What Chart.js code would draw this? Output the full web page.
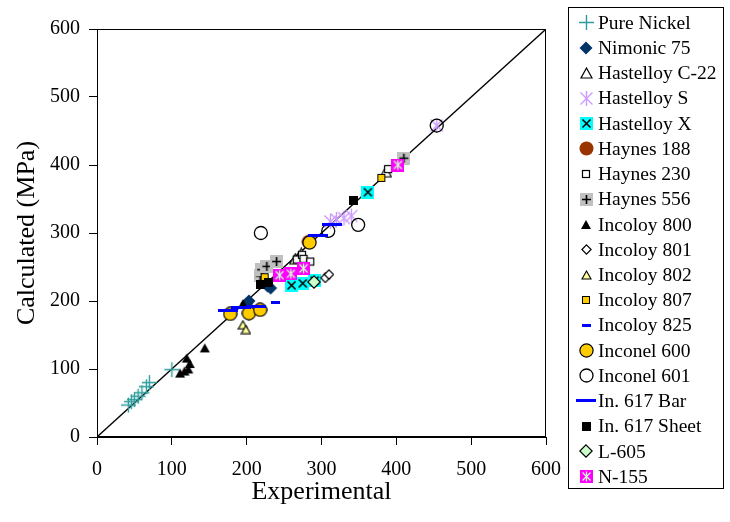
<!DOCTYPE html>
<html>
<head>
<meta charset="utf-8">
<script src="https://cdn.jsdelivr.net/npm/chart.js@4.4.1/dist/chart.umd.min.js"></script>
<style>
  html, body { margin: 0; padding: 0; background: #fff; }
  #wrap { width: 730px; height: 522px; }
</style>
</head>
<body>
<div id="wrap"><canvas id="c" width="730" height="522"></canvas></div>
<script>
// ─── data (experimental, calculated) in MPa ─────────────────────────────────
const pureNickel   = [[42,47],[46,52],[50,55],[55,60],[60,65],[66,74],[70,80],[100,99]];
const nimonic75    = [[200,196],[203,200],[228,222],[232,219]];
const hastC22      = [[265,262],[270,265],[273,270],[386,390]];
const hastS        = [[312,317],[320,320],[330,322],[340,325],[454,458]];
const hastX        = [[260,223],[275,226],[291,230],[362,360]];
const haynes188    = [[283,287]];
const haynes230    = [[267,261],[274,268],[276,262],[285,258],[389,394]];
const haynes556    = [[218,237],[220,246],[227,251],[240,258],[410,410]];
const incoloy800   = [[111,94],[117,97],[122,100],[124,108],[120,116],[144,131],[195,196]];
const incoloy801   = [[305,234],[310,239]];
const incoloy802   = [[195,165],[199,158]];
const incoloy807   = [[224,235],[380,381]];
const incoloy825   = [[239,198]];
const inconel600   = [[178,181],[203,182],[218,187],[284,286]];
const inconel601   = [[219,300],[309,303],[349,312],[454,458]];
const in617Bar     = [[175,186],[193,191],[213,192],[295,296],[314,313]];
const in617Sheet   = [[218,225],[229,227],[343,348]];
const l605         = [[290,228]];
const n155         = [[244,238],[259,240],[276,248],[402,400]];

const AXIS_TICKS = [0, 100, 200, 300, 400, 500, 600];
const SERIF = '"Liberation Serif", "Times New Roman", serif';

// ─── marker images ──────────────────────────────────────────────────────────
function mk(w, h, draw) {
  const c = document.createElement('canvas');
  c.width = w; c.height = h;
  const g = c.getContext('2d');
  draw(g, w, h);
  return c;
}
const plus = (g, cx, cy, r) => { g.beginPath(); g.moveTo(cx - r, cy); g.lineTo(cx + r, cy); g.moveTo(cx, cy - r); g.lineTo(cx, cy + r); g.stroke(); };
const cross = (g, cx, cy, r) => { g.beginPath(); g.moveTo(cx - r, cy - r); g.lineTo(cx + r, cy + r); g.moveTo(cx + r, cy - r); g.lineTo(cx - r, cy + r); g.stroke(); };
const star = (g, cx, cy, r) => { cross(g, cx, cy, r * 0.8); g.beginPath(); g.moveTo(cx, cy - r); g.lineTo(cx, cy + r); g.stroke(); };
const diamond = (g, cx, cy, r) => { g.beginPath(); g.moveTo(cx, cy - r); g.lineTo(cx + r, cy); g.lineTo(cx, cy + r); g.lineTo(cx - r, cy); g.closePath(); };
const tri = (g, w, h) => { g.beginPath(); g.moveTo(w / 2, 1); g.lineTo(w - 1, h - 1); g.lineTo(1, h - 1); g.closePath(); };

const M = {
  plus: mk(17, 17, (g) => { g.strokeStyle = '#2e9c9c'; g.lineWidth = 1.4; plus(g, 8.5, 8.5, 7.5); }),
  navyDiamond: mk(14, 14, (g) => { g.fillStyle = '#003366'; diamond(g, 7, 7, 6.5); g.fill(); }),
  openTri: mk(13, 12, (g, w, h) => { g.fillStyle = '#fff'; g.strokeStyle = '#000'; g.lineWidth = 1.2; tri(g, w, h); g.fill(); g.stroke(); }),
  lavStar: mk(17, 17, (g) => { g.strokeStyle = '#cc99ff'; g.lineWidth = 1.4; star(g, 8.5, 8.5, 7.5); }),
  cyanX: mk(13, 13, (g) => { g.fillStyle = '#00ffff'; g.fillRect(0, 0, 13, 13); g.strokeStyle = '#000'; g.lineWidth = 1.6; cross(g, 6.5, 6.5, 4); }),
  brownDot: mk(15, 15, (g) => { g.fillStyle = '#993300'; g.beginPath(); g.arc(7.5, 7.5, 7, 0, Math.PI * 2); g.fill(); }),
  openSq: mk(10, 10, (g) => { g.fillStyle = '#fff'; g.fillRect(1, 1, 8, 8); g.strokeStyle = '#000'; g.lineWidth = 1.2; g.strokeRect(1.5, 1.5, 7, 7); }),
  graySq: mk(13, 13, (g) => { g.fillStyle = '#c0c0c0'; g.fillRect(0, 0, 13, 13); g.strokeStyle = '#000'; g.lineWidth = 1.6; plus(g, 6.5, 6.5, 4.5); }),
  blackTri: mk(12, 11, (g, w, h) => { g.fillStyle = '#000'; tri(g, w, h); g.fill(); }),
  openDia: mk(11, 11, (g) => { g.fillStyle = '#fff'; g.strokeStyle = '#000'; g.lineWidth = 1.2; diamond(g, 5.5, 5.5, 4.6); g.fill(); g.stroke(); }),
  yelTri: mk(11, 10, (g, w, h) => { g.fillStyle = '#ffff99'; g.strokeStyle = '#000'; g.lineWidth = 1.1; tri(g, w, h); g.fill(); g.stroke(); }),
  orangeSq: mk(10, 10, (g) => { g.fillStyle = '#ffcc00'; g.fillRect(1, 1, 8, 8); g.strokeStyle = '#000'; g.lineWidth = 1; g.strokeRect(1.5, 1.5, 7, 7); }),
  shortDash: mk(9, 3, (g) => { g.fillStyle = '#0000ff'; g.fillRect(0, 0, 9, 3); }),
  yelDot: mk(15, 15, (g) => { g.fillStyle = '#ffcc00'; g.strokeStyle = '#000'; g.lineWidth = 1.2; g.beginPath(); g.arc(7.5, 7.5, 6.6, 0, Math.PI * 2); g.fill(); g.stroke(); }),
  openDot: mk(15, 15, (g) => { g.strokeStyle = '#000'; g.lineWidth = 1.3; g.beginPath(); g.arc(7.5, 7.5, 6.5, 0, Math.PI * 2); g.stroke(); }),
  longDash: mk(20, 3, (g) => { g.fillStyle = '#0000ff'; g.fillRect(0, 0, 20, 3); }),
  blackSq: mk(9, 9, (g) => { g.fillStyle = '#000'; g.fillRect(0, 0, 9, 9); }),
  greenDia: mk(14, 14, (g) => { g.fillStyle = '#ccffcc'; g.strokeStyle = '#000'; g.lineWidth = 1.2; diamond(g, 7, 7, 6.2); g.fill(); g.stroke(); }),
  magentaStar: mk(13, 13, (g) => { g.fillStyle = '#ff00ff'; g.fillRect(0, 0, 13, 13); g.strokeStyle = '#ccffcc'; g.lineWidth = 1.3; star(g, 6.5, 6.5, 5); }),
};

const SERIES = [
  ['Pure Nickel',    pureNickel, M.plus],
  ['Nimonic 75',     nimonic75,  M.navyDiamond],
  ['Hastelloy C-22', hastC22,    M.openTri],
  ['Hastelloy S',    hastS,      M.lavStar],
  ['Hastelloy X',    hastX,      M.cyanX],
  ['Haynes 188',     haynes188,  M.brownDot],
  ['Haynes 230',     haynes230,  M.openSq],
  ['Haynes 556',     haynes556,  M.graySq],
  ['Incoloy 800',    incoloy800, M.blackTri],
  ['Incoloy 801',    incoloy801, M.openDia],
  ['Incoloy 802',    incoloy802, M.yelTri],
  ['Incoloy 807',    incoloy807, M.orangeSq],
  ['Incoloy 825',    incoloy825, M.shortDash],
  ['Inconel 600',    inconel600, M.yelDot],
  ['Inconel 601',    inconel601, M.openDot],
  ['In. 617 Bar',    in617Bar,   M.longDash],
  ['In. 617 Sheet',  in617Sheet, M.blackSq],
  ['L-605',          l605,       M.greenDia],
  ['N-155',          n155,       M.magentaStar],
];

const datasets = SERIES.map(([label, pts, img], i) => {
  const ds = {
    label,
    data: pts.map(([x, y]) => ({ x, y })),
    pointStyle: img,
    legendImg: img,
    pointRadius: 6,
    order: 50 - i,          // later series drawn on top, like Excel
  };
  // hollow circles look crisper drawn as vector arcs
  if (img === M.openDot) {
    Object.assign(ds, { pointStyle: 'circle', pointRadius: 6.5, borderWidth: 1.3,
                        borderColor: '#000', backgroundColor: 'rgba(0,0,0,0)' });
  }
  return ds;
});

datasets.push({
  label: '',
  data: [{ x: 0, y: 0 }, { x: 600, y: 600 }],
  showLine: true,
  borderColor: '#000',
  borderWidth: 1.3,
  pointRadius: 0,
  order: 100,
});

// ─── plugins: plot frame + boxed legend ─────────────────────────────────────
const frame = {
  id: 'frame',
  beforeDatasetsDraw(chart) {
    const { ctx, chartArea: a } = chart;
    ctx.save();
    ctx.strokeStyle = '#000'; ctx.lineWidth = 1;
    ctx.strokeRect(Math.round(a.left) + 0.5, Math.round(a.top) + 0.5,
                   Math.round(a.right - a.left) - 1, Math.round(a.bottom - a.top) - 1);
    ctx.restore();
  },
};

const boxLegend = {
  id: 'boxLegend',
  afterDraw(chart) {
    const ctx = chart.ctx;
    ctx.save();
    ctx.strokeStyle = '#000'; ctx.lineWidth = 1;
    ctx.strokeRect(568.5, 7.5, 155, 481);
    ctx.font = '19.5px ' + SERIF;
    ctx.textBaseline = 'middle';
    ctx.fillStyle = '#000';
    chart.data.datasets.filter(d => d.label).forEach((ds, k) => {
      const y = 22.7 + k * 25.22;
      const img = ds.legendImg;
      ctx.drawImage(img, Math.round(586 - img.width / 2), Math.round(y - img.height / 2));
      ctx.fillText(ds.label, 598, y + 1);
    });
    ctx.restore();
  },
};

const axisCommon = {
  type: 'linear', min: 0, max: 600,
  afterBuildTicks: s => { s.ticks = AXIS_TICKS.map(v => ({ value: v })); },
  grid: { display: true, drawOnChartArea: false, drawTicks: true, tickLength: 8, color: '#000', lineWidth: 1 },
  border: { display: true, color: '#000', width: 1 },
};

new Chart(document.getElementById('c'), {
  type: 'scatter',
  data: { datasets },
  plugins: [frame, boxLegend],
  options: {
    responsive: false,
    animation: false,
    layout: { padding: { top: 29, right: 184, bottom: 0, left: 0 } },
    plugins: { legend: { display: false }, tooltip: { enabled: false } },
    scales: {
      x: {
        ...axisCommon,
        position: 'bottom',
        afterFit: s => { s.height = 85; },
        ticks: { color: '#000', padding: 13, maxRotation: 0, font: { family: SERIF, size: 20 } },
        title: { display: true, text: 'Experimental', color: '#000',
                 font: { family: SERIF, size: 26 }, padding: { top: 0, bottom: 14 } },
      },
      y: {
        ...axisCommon,
        position: 'left',
        afterFit: s => { s.width = 97; },
        ticks: { color: '#000', padding: 9, font: { family: SERIF, size: 20 } },
        title: { display: true, text: 'Calculated (MPa)', color: '#000',
                 font: { family: SERIF, size: 26 }, padding: { top: 12, bottom: 0 } },
      },
    },
  },
});
</script>
</body>
</html>
